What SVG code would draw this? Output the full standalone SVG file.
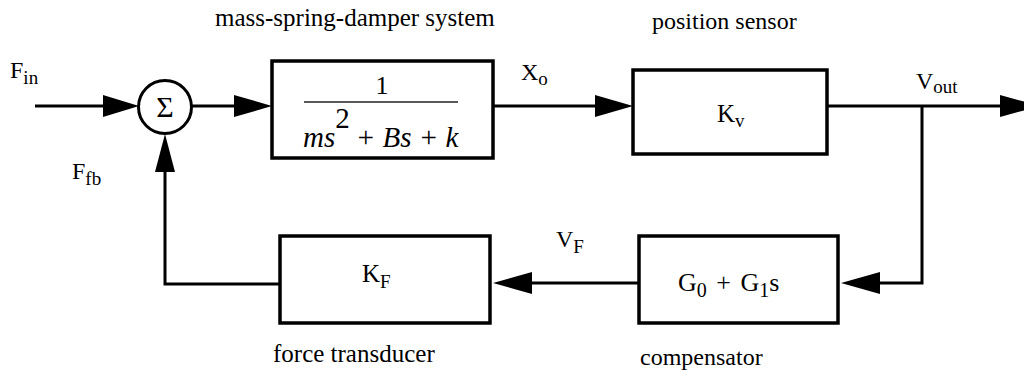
<svg xmlns="http://www.w3.org/2000/svg" width="1024" height="381" viewBox="0 0 1024 381">
<style>
text{font-family:'Liberation Serif','DejaVu Serif',serif;fill:#000}
.t{font-size:25px}
.t2{font-size:24px}
.l{font-size:24px}
.k{font-size:25px}
.s{font-size:19px}
.blk{fill:#fff;stroke:#000;stroke-width:3.5}
.w{fill:none;stroke:#000;stroke-width:3}
.ah{fill:#000;stroke:none}
</style>
<rect width="1024" height="381" fill="#fff"/>
<text class="t" x="215" y="26">mass-spring-damper system</text>
<text class="t2" x="652" y="29">position sensor</text>
<text class="t" x="273" y="362">force transducer</text>
<text class="t2" x="640" y="365">compensator</text>
<g id="connectors">
<path class="w" d="M35 106H105"/>
<polygon class="ah" points="139,106 103,95 103,117"/>
<path class="w" d="M191 106H236"/>
<polygon class="ah" points="272,106 234,95 234,117"/>
<path class="w" d="M493 106H597"/>
<polygon class="ah" points="633,106 595,95 595,117"/>
<path class="w" d="M827 106H1002"/>
<polygon class="ah" points="1040,106 1000,95 1000,117"/>
<path class="w" d="M922 106V283H880"/>
<polygon class="ah" points="841,283 880,272 880,294"/>
<path class="w" d="M639 283H532"/>
<polygon class="ah" points="493,283 532,272 532,294"/>
<path class="w" d="M280 284H165V172"/>
<polygon class="ah" points="165,134 155,172 175,172"/>
</g>
<g id="sum">
<circle cx="165" cy="107" r="26.5" fill="#fff" stroke="#000" stroke-width="3"/>
<text x="165" y="117" font-size="30" text-anchor="middle">Σ</text>
</g>
<g id="plant">
<rect class="blk" x="272" y="61" width="221" height="97"/>
<text x="382" y="94" font-size="26" text-anchor="middle">1</text>
<line x1="304" y1="102" x2="458" y2="102" stroke="#222" stroke-width="1.5"/>
<text x="303" y="147" font-size="29" font-style="italic">ms<tspan font-style="normal" dy="-19">2</tspan><tspan dy="19" dx="6">+ Bs + k</tspan></text>
</g>
<g id="sensor">
<rect class="blk" x="633" y="70" width="194" height="84"/>
<text class="k" x="717" y="122">K<tspan class="s" dy="5">v</tspan></text>
</g>
<g id="compensator">
<rect class="blk" x="639" y="236" width="199" height="87"/>
<text style="font-size:26px" x="678" y="291" word-spacing="3">G<tspan style="font-size:20px" dy="6">0</tspan><tspan dy="-6"> + G</tspan><tspan style="font-size:20px" dy="6">1</tspan><tspan dy="-6">s</tspan></text>
</g>
<g id="transducer">
<rect class="blk" x="280" y="236" width="210" height="87"/>
<text class="k" x="362" y="282">K<tspan class="s" dy="6">F</tspan></text>
</g>
<g id="labels">
<text class="l" x="10" y="78">F<tspan class="s" dy="6">in</tspan></text>
<text class="l" x="72" y="179">F<tspan class="s" dy="6">fb</tspan></text>
<text class="l" x="521" y="80">X<tspan class="s" dy="5">o</tspan></text>
<text class="l" x="916" y="89">V<tspan class="s" dy="4">out</tspan></text>
<text class="l" x="556" y="247">V<tspan class="s" dy="6">F</tspan></text>
</g>
</svg>
